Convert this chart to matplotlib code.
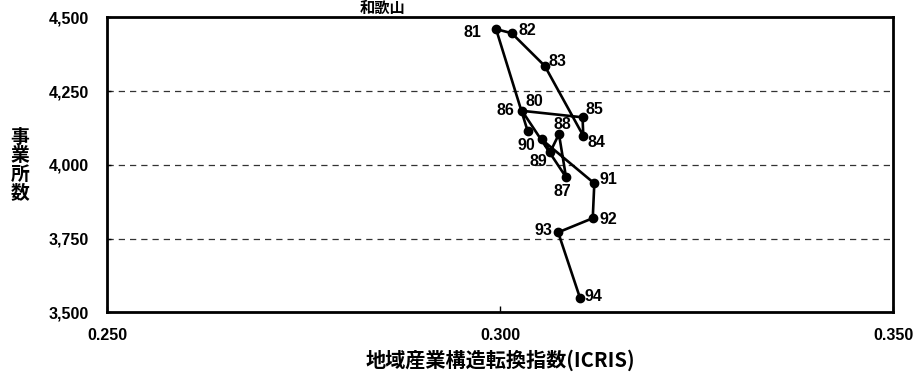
import matplotlib
matplotlib.use('Agg')
import matplotlib.pyplot as plt

# データ（年・ICRIS・事業所数）
years = ['80', '81', '82', '83', '84', '85', '86', '87',
         '88', '89', '90', '91', '92', '93', '94']
icris = [0.3035, 0.2995, 0.3015, 0.3057, 0.3106, 0.3105, 0.3028, 0.3084,
         0.3075, 0.3064, 0.3053, 0.3120, 0.3118, 0.3074, 0.3102]
offices = [4116, 4460, 4446, 4335, 4098, 4161, 4183, 3958,
           4104, 4044, 4086, 3937, 3819, 3771, 3547]

x_ticks = [0.250, 0.300, 0.350]
y_ticks = [3500, 3750, 4000, 4250, 4500]

# ラベル位置（ピクセル）
label_off = {
    '80': (7, 29), '81': (-24, -3), '82': (16, 3), '83': (13, 4),
    '84': (13, -7), '85': (12, 8), '86': (-17, 0), '87': (-4, -14),
    '88': (3, 10), '89': (-12, -10), '90': (-15, -6), '91': (14, 4),
    '92': (16, -1), '93': (-15, 2), '94': (13, 2),
}

fam = ['Liberation Sans', 'Noto Sans CJK JP', 'DejaVu Sans']
jp = ['Noto Sans CJK JP', 'DejaVu Sans']
plt.rcParams['font.family'] = fam

fig = plt.figure(figsize=(9.13, 3.77), dpi=100)
ax = fig.add_axes([107 / 913, 1 - 312.3 / 377, 786 / 913, 295 / 377])

ax.plot(icris, offices, color='black', lw=1.9, marker='o', ms=6, zorder=3)

for yr, x, y in zip(years, icris, offices):
    dx, dy = label_off[yr]
    ax.annotate(yr, (x, y), xytext=(dx, dy), textcoords='offset pixels',
                ha='center', va='center', fontsize=11.5, fontweight='bold')

ax.set_xlim(0.25, 0.35)
ax.set_ylim(3500, 4500)
ax.set_xticks(x_ticks)
ax.set_xticklabels(['%.3f' % v for v in x_ticks], fontsize=11.5, fontweight='bold')
ax.set_yticks(y_ticks)
ax.set_yticklabels(['{:,}'.format(v) for v in y_ticks], fontsize=11.5, fontweight='bold')
ax.tick_params(axis='x', direction='in', length=4, width=1, pad=11)
ax.tick_params(axis='y', direction='in', length=3, width=1, pad=13)

for v in y_ticks[1:-1]:
    ax.axhline(v, color='#333333', lw=0.9, ls=(0, (5, 4)), zorder=1)

for s in ax.spines.values():
    s.set_linewidth(2)
    s.set_color('black')

ax.set_xlabel('地域産業構造転換指数(ICRIS)', fontsize=14.5, fontweight='bold',
              labelpad=5, family=jp)
fig.text(20 / 913, 1 - 165 / 377, '事\n業\n所\n数', ha='center', va='center',
         fontsize=13.5, fontweight='bold', linespacing=0.95, family=jp)
fig.text(383 / 913, 1.0, '和歌山', ha='center', va='top', fontsize=11,
         fontweight='bold', family=jp)

fig.savefig('out.png', dpi=100)
